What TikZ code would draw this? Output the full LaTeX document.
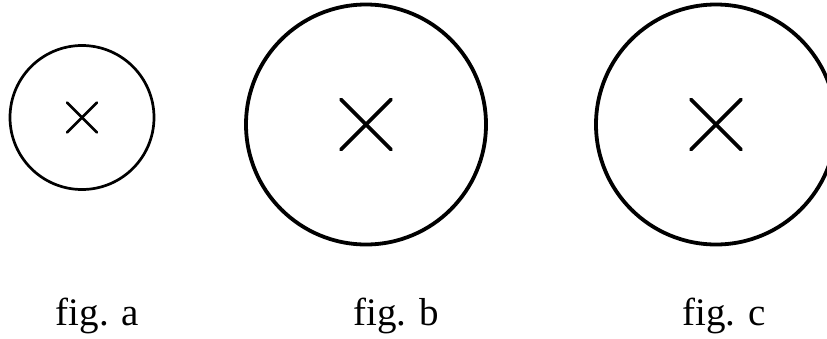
\documentclass[tikz,border=0pt]{standalone}
\usepackage{fontspec}
\setmainfont{Liberation Serif}
\usetikzlibrary{calc}
\tikzset{
  figlabel/.style={anchor=base, inner sep=0pt, font=\fontsize{39}{47}\selectfont},
  thin ring/.style={line width=2.7pt},
  thick ring/.style={line width=3.8pt, line cap=round},
}
\begin{document}
\begin{tikzpicture}[x=1pt,y=-1pt]
\useasboundingbox (0,0) rectangle (827,338);
% fig. a: small circle
\coordinate (ca) at (82,117.5);
\draw[thin ring] (ca) circle (72);
\draw[thin ring, line cap=round] ($(ca)+(-15,-15)$) -- ($(ca)+(15,15)$);
\draw[thin ring, line cap=round] ($(ca)+(-15,15)$) -- ($(ca)+(15,-15)$);
% fig. b: large circle
\coordinate (cb) at (366,124.5);
\draw[thick ring] (cb) circle (120);
\draw[thick ring] ($(cb)+(-25,-25)$) -- ($(cb)+(25,25)$);
\draw[thick ring] ($(cb)+(-25,25)$) -- ($(cb)+(25,-25)$);
% fig. c: large circle, cut at the right
\coordinate (cc) at (716,124.5);
\draw[thick ring] (cc) circle (120);
\draw[thick ring] ($(cc)+(-25,-25)$) -- ($(cc)+(25,25)$);
\draw[thick ring] ($(cc)+(-25,25)$) -- ($(cc)+(25,-25)$);
% labels
\node[figlabel] (la) at (97.5,325) {fig. a};
\node[figlabel] (lb) at (396,325) {fig. b};
\node[figlabel] (lc) at (724,325) {fig. c};
\end{tikzpicture}
\end{document}
